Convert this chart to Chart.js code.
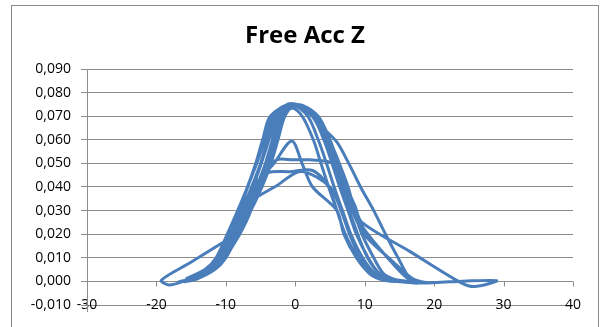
<!DOCTYPE html>
<html>
<head>
<meta charset="utf-8">
<script src="https://cdn.jsdelivr.net/npm/chart.js@4/dist/chart.umd.min.js"></script>
<style>
  body { margin: 0; background: #fff; }
  #wrap { position: relative; width: 600px; height: 327px; overflow: hidden; }
  #frame { position: absolute; left: 11px; top: 5px; width: 586px; height: 340px; border: 1px solid #8a8a8a; pointer-events: none; }
  canvas { position: absolute; left: 0; top: 0; }
</style>
</head>
<body>
<div id="wrap">
  <canvas id="chart" width="600" height="327"></canvas>
  <div id="frame"></div>
</div>
<script>
// Samples, in the order the line visits them: [acc, density]
const sweep1 = [[-15.8,0.001],[-13.0,0.005],[-11.4,0.010],[-9.8,0.020],[-8.3,0.030],[-6.9,0.040],[-5.7,0.050],[-4.7,0.060],[-3.6,0.070],[-0.8,0.0748],
  [2.5,0.070],[4.1,0.060],[5.3,0.050],[6.4,0.040],[7.6,0.030],[8.8,0.020],[10.5,0.010],[12.2,0.003],[14.2,0.0005],[16.5,-0.0005]];
const sweep2 = [[17.5,-0.0008],[14.8,0.0005],[12.8,0.003],[11.3,0.010],[9.6,0.020],[8.4,0.030],[7.2,0.040],[6.0,0.050],[4.8,0.060],[3.0,0.070],[0.6,0.0748],
  [-2.3,0.070],[-3.3,0.060],[-4.3,0.050],[-5.6,0.040],[-7.1,0.030],[-8.7,0.020],[-10.6,0.010],[-12.2,0.005],[-14.8,0.001],[-16.5,0.000]];
const sweep3 = [[-15.3,0.001],[-12.6,0.005],[-11.0,0.010],[-9.3,0.020],[-7.7,0.030],[-6.3,0.040],[-5.0,0.050],[-4.0,0.060],[-3.0,0.070],[-1.0,0.0752],[0.5,0.0745],
  [2.0,0.0713],[4.0,0.065],[6.0,0.059],[7.7,0.050],[9.4,0.040],[11.3,0.030],[13.0,0.020],[14.8,0.010],[16.6,0.001],[18.5,-0.0005]];
const sweep4 = [[16.0,-0.0003],[13.6,0.0005],[11.6,0.003],[9.7,0.010],[8.0,0.020],[6.8,0.030],[5.6,0.040],[4.5,0.050],[3.3,0.060],[1.8,0.070],[-0.2,0.0745],
  [-1.5,0.070],[-2.5,0.060],[-3.5,0.050],[-4.8,0.040],[-6.4,0.030],[-8.4,0.020],[-10.9,0.0156],[-15.1,0.008],[-19.3,0.0005],[-18.2,-0.0015],[-16.2,0.000],[-12.8,0.0044],[-10.9,0.0107]];
const sweep5 = [[-9.4,0.020],[-7.4,0.030],[-6.0,0.040],[-4.0,0.046],[-0.8,0.0465],[2.5,0.047],[4.8,0.040],[6.0,0.030],[7.2,0.020],[9.0,0.010],[11.0,0.003],[13.0,0.0005],[15.5,0.000]];
const sweep6 = [[14.2,0.0005],[12.2,0.003],[10.5,0.010],[8.8,0.020],[7.6,0.030],[6.4,0.040],[5.3,0.050],[2.1,0.0515],[-0.3,0.0515],[-2.7,0.0515],[-4.6,0.045],
  [-7.0,0.030],[-8.6,0.020],[-10.4,0.010],[-12.0,0.005],[-14.6,0.001],[-16.0,0.000]];
const sweep7 = [[-14.3,0.001],[-11.8,0.005],[-10.2,0.010],[-8.0,0.020],[-6.4,0.030],[-5.5,0.041],[-3.0,0.0503],[-0.5,0.0595],[1.0,0.0498],[2.5,0.040],[6.0,0.030],[7.0,0.020],
  [8.8,0.010],[10.8,0.003],[12.8,0.0005],[15.0,0.000]];
const sweep8 = [[13.0,0.0005],[11.0,0.003],[9.0,0.010],[7.2,0.020],[6.0,0.030],[4.8,0.040],[3.7,0.050],[2.6,0.060],[1.0,0.070],[-0.4,0.0735],
  [-1.9,0.070],[-2.9,0.060],[-3.9,0.050],[-5.0,0.040],[-6.6,0.030],[-8.2,0.020],[-10.0,0.010],[-11.6,0.005],[-14.2,0.001],[-15.8,0.000]];
const sweep9 = [[-14.8,0.001],[-12.2,0.005],[-10.6,0.010],[-8.8,0.020],[-7.2,0.030],[-6.4,0.034],[-2.8,0.0403],[0.8,0.0466],[5.0,0.040],[6.6,0.030],[7.8,0.020],
  [9.4,0.010],[11.4,0.003],[13.4,0.0005],[15.8,-0.0003]];
const sweep10 = [[18.5,-0.0007],[21.0,-0.0004],[24.2,0.0001],[29.0,0.0003],[25.8,-0.0022],[23.7,-0.0003],[16.6,0.0125],[9.6,0.025],[8.6,0.032],[7.4,0.040],
  [6.2,0.050],[5.0,0.060],[3.3,0.070],[1.2,0.0742],[-1.0,0.0728],[-2.6,0.068],[-3.8,0.060],[-4.9,0.050],[-6.1,0.040],[-7.5,0.030],[-9.0,0.020],
  [-10.8,0.010],[-12.4,0.005],[-15.0,0.001],[-16.8,-0.0002]];
const sweep11 = [[-15.2,0.001],[-12.5,0.005],[-10.9,0.010],[-9.2,0.020],[-7.6,0.030],[-6.2,0.040],[-4.9,0.050],[-3.8,0.060],[-2.8,0.070],[-0.8,0.0745],
  [1.5,0.0725],[3.4,0.0665],[5.2,0.058],[6.6,0.048],[7.6,0.040],[8.6,0.030],[9.7,0.023],[13.1,0.0107],[16.4,0.0008],[19.0,-0.0006]];
const sweep12 = [[17.0,0.001],[14.2,0.008],[9.9,0.020],[8.2,0.030],[7.0,0.040],[5.7,0.050],[4.4,0.060],[2.7,0.070],[0.2,0.0748],
  [-2.0,0.071],[-3.1,0.060],[-4.1,0.050],[-5.3,0.040],[-6.8,0.030],[-8.4,0.020],[-10.2,0.010],[-11.9,0.005],[-14.5,0.001],[-16.0,0.000]];
const sweep13 = [[-14.0,0.002],[-12.0,0.006],[-10.5,0.012],[-9.0,0.022],[-7.8,0.032],[-6.6,0.042],[-5.3,0.052],[-4.2,0.062],[-3.2,0.070],[-1.5,0.0745],
  [1.0,0.0740],[2.9,0.068],[4.4,0.058],[5.6,0.048],[6.8,0.038],[8.0,0.028],[9.2,0.018],[10.8,0.008],[12.6,0.002],[15.2,-0.0002],[18.0,-0.0006]];
const sweep14 = [[15.8,0.0002],[13.8,0.001],[11.9,0.004],[10.1,0.012],[8.5,0.024],[7.3,0.034],[6.2,0.044],[5.0,0.054],[3.8,0.064],[2.2,0.071],[0.0,0.0752],
  [-2.2,0.0715],[-3.4,0.064],[-4.5,0.054],[-5.6,0.044],[-6.9,0.034],[-8.3,0.024],[-9.6,0.015],[-11.2,0.007],[-13.5,0.002],[-16.0,-0.0003]];

const xTicks = [-30, -20, -10, 0, 10, 20, 30, 40];
const yTicks = [-0.01, 0, 0.01, 0.02, 0.03, 0.04, 0.05, 0.06, 0.07, 0.08, 0.09];
const chartTitle = 'Free Acc Z';

const samples = [].concat(sweep1, sweep2, sweep3, sweep4, sweep5, sweep6, sweep7, sweep8, sweep9, sweep10, sweep11, sweep12, sweep13, sweep14);
const gridColor = '#8c8c8c';
const tickFont = { family: 'Open Sans', size: 14 };

function fmtY(v) {
    if (Math.abs(v) < 1e-9) v = 0;
    return v.toFixed(3).replace('.', ',');
}

// title sits a bit right of the canvas centre, like in Excel
const excelTitle = {
    id: 'excelTitle',
    afterDraw(chart) {
        const ctx = chart.ctx;
        ctx.save();
        ctx.font = 'bold 24px "Open Sans"';
        ctx.fillStyle = '#000';
        ctx.textAlign = 'center';
        ctx.textBaseline = 'alphabetic';
        ctx.fillText(chartTitle, 305, 43);
        ctx.restore();
    }
};

// little tick marks on the 0,000 line and the y axis running past the bottom
const excelTicks = {
    id: 'excelTicks',
    beforeDatasetsDraw(chart) {
        const { ctx, scales: { x, y }, chartArea } = chart;
        const y0 = Math.round(y.getPixelForValue(0)) + 0.5;
        ctx.save();
        ctx.strokeStyle = gridColor;
        ctx.lineWidth = 1;
        ctx.beginPath();
        xTicks.forEach(t => {
            const px = Math.round(x.getPixelForValue(t)) + 0.5;
            ctx.moveTo(px, y0);
            ctx.lineTo(px, y0 + 5);
        });
        const lx = Math.round(chartArea.left) + 0.5;
        ctx.moveTo(lx, chartArea.bottom);
        ctx.lineTo(lx, chartArea.bottom + 7);
        ctx.stroke();
        ctx.restore();
    }
};

new Chart(document.getElementById('chart'), {
    type: 'scatter',
    data: {
        datasets: [{
            data: samples.map(p => ({ x: p[0], y: p[1] })),
            showLine: true,
            borderColor: '#4a7ebb',
            borderWidth: 3,
            pointRadius: 0,
            tension: 0.3,
            fill: false
        }]
    },
    options: {
        responsive: false,
        animation: false,
        devicePixelRatio: 1,
        layout: { padding: { left: 0, right: 27, top: 69, bottom: 0 } },
        plugins: {
            legend: { display: false },
            tooltip: { enabled: false },
            title: { display: false }
        },
        scales: {
            x: {
                type: 'linear',
                min: xTicks[0],
                max: xTicks[xTicks.length - 1],
                afterBuildTicks: s => { s.ticks = xTicks.map(v => ({ value: v })); },
                afterFit: s => { s.height = 22; },
                grid: { display: false, drawTicks: false },
                border: { display: false },
                ticks: { color: '#000', font: tickFont, mirror: true, padding: -8, maxRotation: 0 }
            },
            y: {
                min: yTicks[0],
                max: yTicks[yTicks.length - 1],
                afterBuildTicks: s => { s.ticks = yTicks.map(v => ({ value: v })); },
                afterFit: s => { s.width = 87; },
                grid: { color: gridColor, tickLength: 6 },
                border: { display: true, color: gridColor },
                ticks: { color: '#000', font: tickFont, padding: 10, callback: v => fmtY(v) }
            }
        }
    },
    plugins: [excelTicks, excelTitle]
});
</script>
</body>
</html>
